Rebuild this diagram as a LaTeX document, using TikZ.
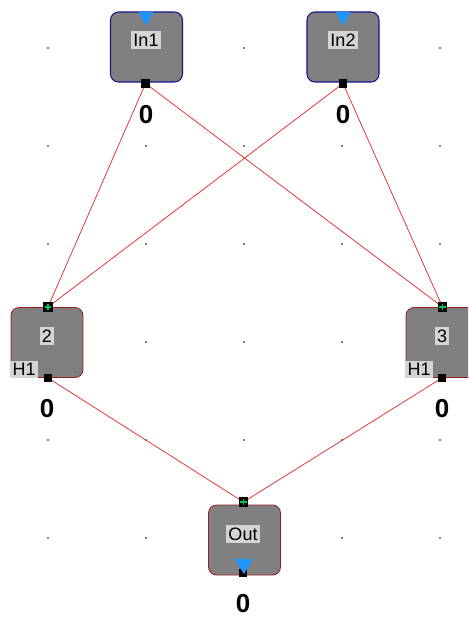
\documentclass[tikz,border=0pt]{standalone}
\usepackage{fontspec}
\setmainfont{Liberation Sans}
\usetikzlibrary{backgrounds}
\definecolor{boxgray}{RGB}{128,128,128}
\definecolor{lblgray}{RGB}{212,212,212}
\definecolor{inborder}{RGB}{20,20,140}
\definecolor{hborder}{RGB}{150,30,30}
\definecolor{wire}{RGB}{225,45,45}
\definecolor{tri}{RGB}{30,150,255}
\definecolor{plusgreen}{RGB}{0,200,80}
\begin{document}
\begin{tikzpicture}[x=0.75pt,y=-0.75pt,
  block/.style={draw, fill=boxgray, rounded corners=6pt, minimum width=54pt, minimum height=52.5pt, line width=0.8pt, inner sep=0pt},
  inblock/.style={block, draw=inborder},
  hblock/.style={block, draw=hborder, line width=0.6pt},
  lbl/.style={fill=lblgray, inner sep=1.8pt, font=\fontsize{13.5}{13.5}\selectfont, text=black},
  outport/.style={fill=black, minimum size=6.5pt, inner sep=0pt},
  inport/.style={fill=black, minimum size=7pt, inner sep=0pt,
    path picture={\draw[plusgreen, line width=0.9pt]
      ([xshift=-2.6pt]path picture bounding box.center) -- ([xshift=2.6pt]path picture bounding box.center)
      ([yshift=-2.6pt]path picture bounding box.center) -- ([yshift=2.6pt]path picture bounding box.center);}},
  val/.style={font=\bfseries\fontsize{19.5}{19.5}\selectfont, inner sep=0pt},
  conn/.style={draw=wire, line width=0.55pt}
]
\useasboundingbox (0,0) rectangle (468,617);
\clip (0,0) rectangle (468,617);

% blocks
\node[inblock] (in1) at (146.5,47) {};
\node[inblock] (in2) at (343,47) {};
\node[hblock] (h2) at (47,342.5) {};
\node[hblock] (h3) at (442,342.5) {};
\node[hblock] (out) at (244.5,540) {};

% labels
\node[lbl] (in1l) at (146,40) {In1};
\node[lbl] (in2l) at (343,40) {In2};
\node[lbl] (h2l) at (47,336) {2};
\node[lbl] (h3l) at (442,336) {3};
\node[lbl] (outl) at (243,534) {Out};
\node[lbl, anchor=south west] (h2h) at (10,378) {H1};
\node[lbl, anchor=south west] (h3h) at (405,378) {H1};

% blue triangles
\fill[tri] (138.5,12) -- (153.5,12) -- (146,26) -- cycle;
\fill[tri] (335.5,12) -- (350.5,12) -- (343,26) -- cycle;

% ports
\node[outport] (in1p) at (145.5,83.5) {};
\node[outport] (in2p) at (343,83.5) {};
\node[inport] (h2t) at (48,307) {};
\node[outport] (h2b) at (48,378) {};
\node[inport] (h3t) at (442.5,307) {};
\node[outport] (h3b) at (442,378) {};
\node[inport] (outt) at (243.5,502) {};
\node[outport] (outb) at (243,573) {};
\fill[tri] (235,559) -- (253,559) -- (244,574) -- cycle;

% values
\node[val] (v1) at (146,115) {0};
\node[val] (v2) at (343,115) {0};
\node[val] (v3) at (47,409) {0};
\node[val] (v4) at (442,409) {0};
\node[val] (v5) at (243,604) {0};

\begin{pgfonlayer}{background}
  \fill[white] (0,0) rectangle (468,617);
  \foreach \gx in {48,146,244,342,440} {
    \foreach \gy in {48,146,244,342,440,538} {
      \fill[black!50] (\gx-0.6,\gy-0.6) rectangle (\gx+0.6,\gy+0.6);
    }
  }
  \draw[conn] (in1p.center) -- (h2t.center);
  \draw[conn] (in1p.center) -- (h3t.center);
  \draw[conn] (in2p.center) -- (h2t.center);
  \draw[conn] (in2p.center) -- (h3t.center);
  \draw[conn] (h2b.center) -- (outt.center);
  \draw[conn] (h3b.center) -- (outt.center);
\end{pgfonlayer}
\end{tikzpicture}
\end{document}
